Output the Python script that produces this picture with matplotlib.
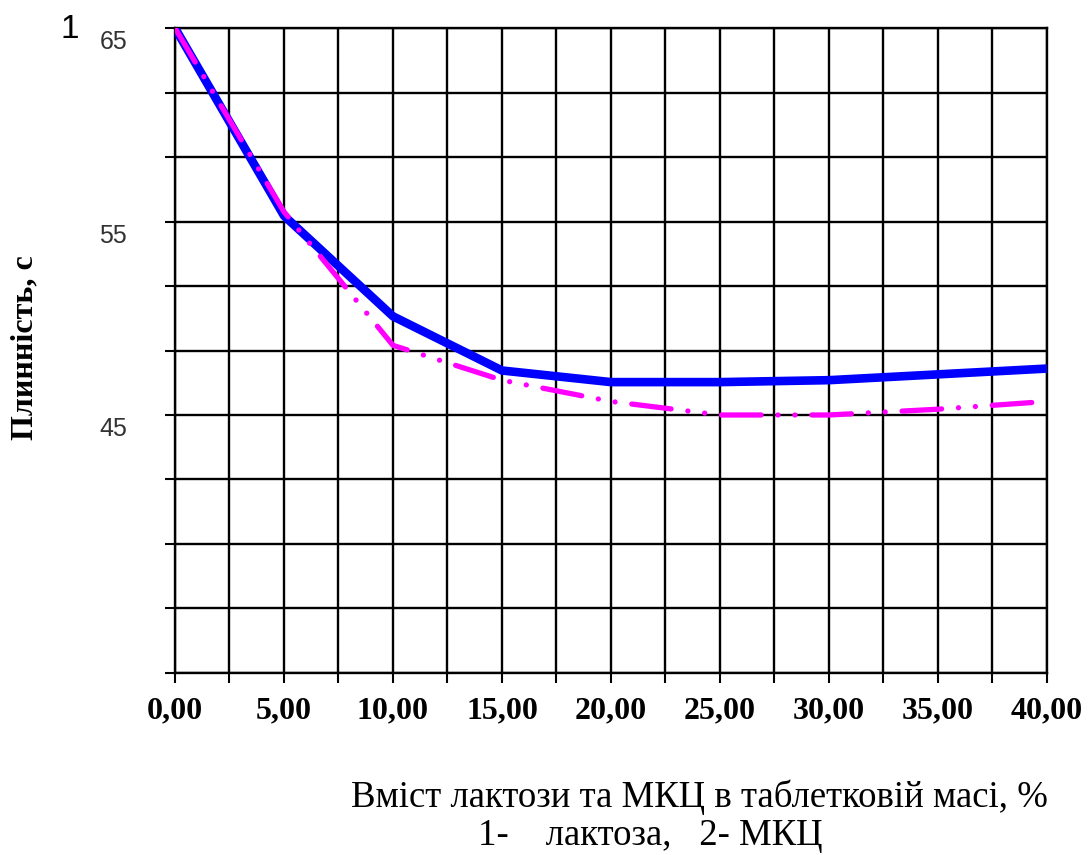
import numpy as np
import matplotlib.pyplot as plt
import matplotlib.transforms as mtransforms

# Дані (вміст, %; плинність, с)
x = [0, 5, 10, 15, 20, 25, 30, 35, 40]
lactose = [65.0, 55.3, 50.1, 47.3, 46.7, 46.7, 46.8, 47.1, 47.4]
mcc = [65.0, 55.5, 48.6, 46.8, 45.7, 45.0, 45.0, 45.3, 45.7]

x_ticks = [0, 5, 10, 15, 20, 25, 30, 35, 40]
x_ticklabels = ['0,00', '5,00', '10,00', '15,00', '20,00', '25,00', '30,00', '35,00', '40,00']
y_top = 65
y_step = 10 / 3
y_labels = {0: '65', 3: '55', 6: '45'}

fig = plt.figure(figsize=(10.89, 8.55), dpi=100)
ax = fig.add_axes([0.1607, 0.2129, 0.8007, 0.7543])

ax.plot(x, lactose, color='#0000FF', lw=6.2, solid_joinstyle='round', zorder=3)
ax.plot(x, mcc, color='#FF00FF', lw=3.8, dash_capstyle='round',
        linestyle=(0, (7.5, 3.2, 0.01, 3.2, 0.01, 3.2)), zorder=4)

ax.set_xlim(0, 40)
ax.set_ylim(y_top - 10 * y_step, y_top)

ax.set_xticks(np.arange(0, 40.1, 2.5), minor=True)
ax.set_xticks(x_ticks)
ax.set_xticklabels(x_ticklabels, fontfamily='Liberation Serif', fontweight='bold', fontsize=23)

yt = [y_top - k * y_step for k in range(11)]
ax.set_yticks(yt)
ax.set_yticklabels([])
# підписи осі Y трохи нижче ліній сітки
off = mtransforms.ScaledTranslation(0, -0.14, fig.dpi_scale_trans)
trans = mtransforms.blended_transform_factory(ax.transAxes, ax.transData) + off
for k, lab in y_labels.items():
    ax.text(-0.055, yt[k], lab, transform=trans, ha='right', va='center',
            fontfamily='Liberation Sans', fontsize=18, color='#333333')

ax.tick_params(axis='both', which='both', length=7, width=1.5, color='black')
ax.tick_params(axis='x', pad=10)

ax.grid(True, which='both', color='black', lw=1.7, zorder=1)
for s in ax.spines.values():
    s.set_color('black')
    s.set_linewidth(1.7)

ax.set_ylabel('Плинність, с', fontfamily='Liberation Serif', fontweight='bold', fontsize=23)
ax.yaxis.set_label_coords(-0.155, 0.505)

fig.text(0.064, 0.966, '1', fontfamily='Liberation Sans', fontsize=24, va='center', ha='center')
fig.text(0.642, 0.068, 'Вміст лактози та МКЦ в таблетковій масі, %',
         fontfamily='Liberation Serif', fontsize=26.5, ha='center', va='center')
fig.text(0.597, 0.023, '1-    лактоза,   2- МКЦ',
         fontfamily='Liberation Serif', fontsize=26.5, ha='center', va='center')

fig.savefig('out.png', dpi=100)
